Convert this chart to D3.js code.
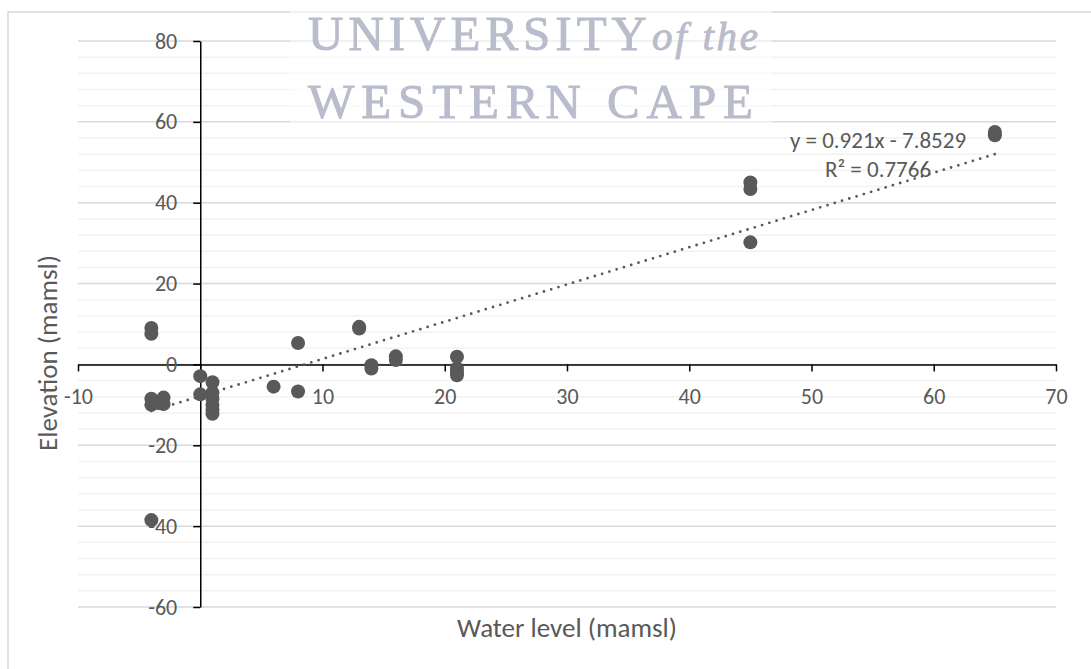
<!DOCTYPE html>
<html>
<head>
<meta charset="utf-8">
<script src="https://d3js.org/d3.v7.min.js"></script>
<style>
body { margin: 0; background: #fff; }
.lbl, .axis text { font-family: Calibri, Carlito, Lato, sans-serif; fill: #595959; }
.minor { stroke: #f2f2f2; stroke-width: 1.5; }
.major { stroke: #d9d9d9; stroke-width: 1.5; }
.axis path, .axis line { stroke: #000; stroke-width: 1.5; }
.axis text { font-size: 22px; }
.dot { fill: #595959; }
.trend { fill: none; stroke: #595959; stroke-width: 2.8; stroke-dasharray: 0 7.6; stroke-linecap: round; }
.mark text { font-family: "Liberation Serif", "Times New Roman", serif; fill: #b9bccb; stroke: #b9bccb; stroke-width: 0.9; }
</style>
</head>
<body>
<script>

// Water level vs elevation, with Excel style linear trendline
var waterLevel = [-4, -4, -4, -4, -3, -3, -3.5, -4,
                  0, 0, 1, 1, 1, 1, 1, 1,
                  6, 8, 8, 13, 13, 14, 14, 16, 16,
                  21, 21, 21, 21, 45, 45, 45, 65, 65];
var elevation  = [9, 7.6, -8.5, -10, -8.2, -9.8, -9.5, -38.5,
                  -2.9, -7.4, -4.4, -7, -8.5, -10, -11.2, -12.2,
                  -5.5, 5.3, -6.7, 9.3, 8.9, -0.2, -1, 2, 1.1,
                  1.9, -1, -2, -2.7, 45, 43.4, 30.2, 57.5, 56.7];

var xTicks = [-10, 0, 10, 20, 30, 40, 50, 60, 70];
var yTicks = [-60, -40, -20, 0, 20, 40, 60, 80];
var minorStep = 4;

var slope = 0.921, intercept = -7.8529, rSquared = 0.7766;

var width = 1091, height = 669;

var svg = d3.select('body').append('svg')
  .attr('width', width)
  .attr('height', height);

var x = d3.scaleLinear().domain([-10, 70]).range([78, 1056]);
var y = d3.scaleLinear().domain([-60, 80]).range([607, 41]);

// chart border (cropped on the right and bottom)
svg.append('path')
  .attr('d', 'M8,669V12H1091')
  .attr('fill', 'none')
  .attr('stroke', '#d9d9d9')
  .attr('stroke-width', 1.5);

// gridlines
var minorTicks = d3.range(-60, 80.1, minorStep).filter(function(v) { return v % 20 !== 0; });
svg.append('g').selectAll('line')
  .data(minorTicks)
  .enter().append('line')
  .attr('class', 'minor')
  .attr('x1', x(-10)).attr('x2', x(70))
  .attr('y1', function(d) { return y(d); })
  .attr('y2', function(d) { return y(d); });

svg.append('g').selectAll('line')
  .data(yTicks)
  .enter().append('line')
  .attr('class', 'major')
  .attr('x1', x(-10)).attr('x2', x(70))
  .attr('y1', function(d) { return y(d); })
  .attr('y2', function(d) { return y(d); });

// watermark of the source document
svg.append('rect')
  .attr('x', 290).attr('y', 0)
  .attr('width', 482).attr('height', 134)
  .attr('fill', '#fff')
  .attr('opacity', 0.5);

var mark = svg.append('g').attr('class', 'mark');
mark.append('text')
  .attr('x', 308).attr('y', 50)
  .attr('font-size', 49)
  .attr('textLength', 339)
  .attr('lengthAdjust', 'spacing')
  .text('UNIVERSITY');
mark.append('text')
  .attr('x', 652).attr('y', 50)
  .attr('font-size', 41)
  .attr('font-style', 'italic')
  .attr('textLength', 106)
  .attr('lengthAdjust', 'spacing')
  .text('of the');
mark.append('text')
  .attr('x', 308).attr('y', 118)
  .attr('font-size', 49)
  .attr('textLength', 445)
  .attr('lengthAdjust', 'spacing')
  .text('WESTERN CAPE');

// axes cross at zero
var xAxis = d3.axisBottom(x)
  .tickValues(xTicks)
  .tickSize(7)
  .tickSizeOuter(0)
  .tickPadding(17)
  .tickFormat(function(d) { return d === 0 ? '' : String(d); });

var yAxis = d3.axisLeft(y)
  .tickValues(yTicks)
  .tickSize(7)
  .tickSizeOuter(0)
  .tickPadding(16)
  .tickFormat(function(d) { return String(d); });

svg.append('g')
  .attr('class', 'axis')
  .attr('transform', 'translate(0,' + y(0) + ')')
  .call(xAxis);

svg.append('g')
  .attr('class', 'axis')
  .attr('transform', 'translate(' + x(0) + ',0)')
  .call(yAxis);

svg.selectAll('.axis').attr('font-family', null).attr('font-size', null);

// trendline over the data range
var xr = d3.extent(waterLevel);
svg.append('path')
  .datum(xr)
  .attr('class', 'trend')
  .attr('d', function(d) {
    return d3.line()
      .x(function(v) { return x(v); })
      .y(function(v) { return y(slope * v + intercept); })(d);
  });

// points
svg.append('g').selectAll('circle')
  .data(waterLevel)
  .enter().append('circle')
  .attr('class', 'dot')
  .attr('cx', function(d) { return x(d); })
  .attr('cy', function(d, i) { return y(elevation[i]); })
  .attr('r', 7);

// trendline label
var eq = svg.append('g').attr('font-size', 23).attr('text-anchor', 'middle');
eq.append('text')
  .attr('class', 'lbl')
  .attr('x', 878).attr('y', 148)
  .text('y = ' + slope + 'x - ' + Math.abs(intercept));
eq.append('text')
  .attr('class', 'lbl')
  .attr('x', 878).attr('y', 177)
  .text('R² = ' + rSquared);

// axis titles
svg.append('text')
  .attr('class', 'lbl')
  .attr('x', 567).attr('y', 637)
  .attr('text-anchor', 'middle')
  .attr('font-size', 27)
  .text('Water level (mamsl)');

svg.append('text')
  .attr('class', 'lbl')
  .attr('transform', 'translate(57,353) rotate(-90)')
  .attr('text-anchor', 'middle')
  .attr('font-size', 27)
  .text('Elevation (mamsl)');

</script>
</body>
</html>
